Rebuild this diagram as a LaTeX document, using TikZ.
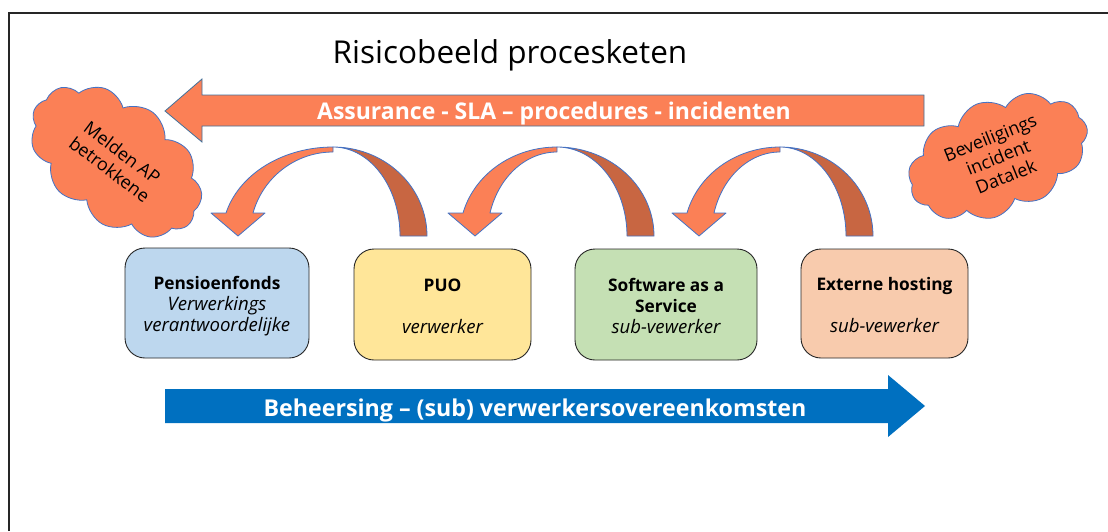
\documentclass[tikz,border=0pt]{standalone}
\usepackage{fontspec}
\setmainfont{Open Sans}
\usetikzlibrary{shapes.symbols}
\definecolor{coral}{RGB}{251,128,86}
\definecolor{coraldark}{RGB}{200,102,66}
\definecolor{outl}{RGB}{68,114,196}
\definecolor{arrowl}{RGB}{65,113,156}
\definecolor{boxblue}{HTML}{BDD7EE}
\definecolor{boxyellow}{HTML}{FFE699}
\definecolor{boxgreen}{HTML}{C5E0B4}
\definecolor{boxpeach}{HTML}{F8CBAD}
\definecolor{bluearrow}{HTML}{0070C0}
\newcommand{\boldline}[1]{{\fontsize{17.3}{21}\selectfont\bfseries #1}}
\newcommand{\itline}[1]{{\fontsize{18.6}{21}\selectfont\itshape #1}}
\newcommand{\bendarrow}[3]{%
 \pgfmathsetmacro{\rxo}{(#2-#1+12)/0.966}%
 \pgfmathsetmacro{\rxi}{(#2-#1-15)/0.9617}%
 \pgfmathsetmacro{\rxd}{#3-#2}%
 \pgfmathsetmacro{\rxdi}{#3-27-#2}%
 \filldraw[arrdark] plot[domain=0:90,samples=40] ({#2+\rxd*cos(\x)},{236-89*sin(\x)}) -- plot[domain=90:0,samples=40] ({#2+\rxdi*cos(\x)},{236-89*sin(\x)}) -- cycle;
 \filldraw[arrlight] (#1-12,213) -- (#1-27,213) -- (#1,236) -- (#1+27,213) -- (#1+15,213) -- plot[domain=164.11:90,samples=40] ({#2+\rxi*cos(\x)},{236-84*sin(\x)}) -- (#2,147) -- plot[domain=90:165,samples=40] ({#2+\rxo*cos(\x)},{236-89*sin(\x)}) -- cycle;
}
\tikzset{
 arrdark/.style={fill=coraldark,draw=outl,line width=0.8pt,line join=round},
 arrlight/.style={fill=coral,draw=outl,line width=0.8pt,line join=round},
 rolebox/.style={draw=black!85,line width=0.9pt,rounded corners=20pt,inner sep=0pt},
 roletext/.style={align=center,font=\fontsize{17.3}{21}\selectfont,inner sep=0pt},
 cloudnode/.style={shape=cloud,cloud puffs=11,cloud puff arc=115,aspect=1.6,fill=coral,draw=outl,
   line width=0.8pt,inner sep=0pt,align=center,font=\fontsize{18}{21}\selectfont},
}
\begin{document}
\begin{tikzpicture}[x=1pt,y=-1pt]
\useasboundingbox (0,0) rectangle (1108,531);
\fill[white] (0,0) rectangle (1108,531);
% frame
\draw[line width=2pt,black!85] (9,531) -- (9,13) -- (1108,13);
% title
\node[font=\fontsize{31.5}{36}\selectfont,anchor=base] (title) at (510,63) {Risicobeeld procesketen};
% top arrow
\filldraw[fill=coral,draw=arrowl,line width=0.8pt] (165,111) -- (202,79) -- (202,95) -- (924,95) -- (924,126) -- (202,126) -- (202,142) -- cycle;
\node[text=white,font=\bfseries\fontsize{23}{27}\selectfont,anchor=base] (assurance) at (554,119) {Assurance - SLA – procedures - incidenten};
% clouds
\node[cloudnode,rotate=-37,minimum width=194pt,minimum height=122pt] (melden) at (116,161) {Melden AP\\betrokkene};
\node[cloudnode,rotate=22,minimum width=188pt,minimum height=114pt] (beveil) at (998,157) {Beveiligings\\incident\\Datalek};
% curved arrows
\bendarrow{238}{333}{427}
\bendarrow{475}{557}{654}
\bendarrow{699}{780}{873}
% boxes
\node[rolebox,fill=boxblue,minimum width=184pt,minimum height=110pt] (pf) at (217,303) {};
\node[roletext] (pftext) at ([yshift=-3pt]pf.center) {\boldline{Pensioenfonds}\\\itline{Verwerkings}\\\itline{verantwoordelijke}};
\node[rolebox,fill=boxyellow,minimum width=177pt,minimum height=111pt] (puo) at (442.5,304.5) {};
\node[roletext] (puotext) at ([yshift=-1.5pt]puo.center) {\boldline{PUO}\\[21pt]\itline{verwerker}};
\node[rolebox,fill=boxgreen,minimum width=182pt,minimum height=111pt] (saas) at (666,304.5) {};
\node[roletext] (saastext) at ([yshift=-1pt]saas.center) {\boldline{Software as a}\\\boldline{Service}\\\itline{sub-vewerker}};
\node[rolebox,fill=boxpeach,minimum width=167pt,minimum height=109pt] (ext) at (884.5,303.5) {};
\node[roletext] (exttext) at ([yshift=-1.5pt]ext.center) {\boldline{Externe hosting}\\[21pt]\itline{sub-vewerker}};
% bottom arrow
\fill[bluearrow] (165,389) -- (888,389) -- (888,375) -- (925,406) -- (888,437) -- (888,423) -- (165,423) -- cycle;
\node[text=white,font=\bfseries\fontsize{23.2}{27}\selectfont,anchor=base] (beheer) at (535,416) {Beheersing – (sub) verwerkersovereenkomsten};
\end{tikzpicture}
\end{document}
